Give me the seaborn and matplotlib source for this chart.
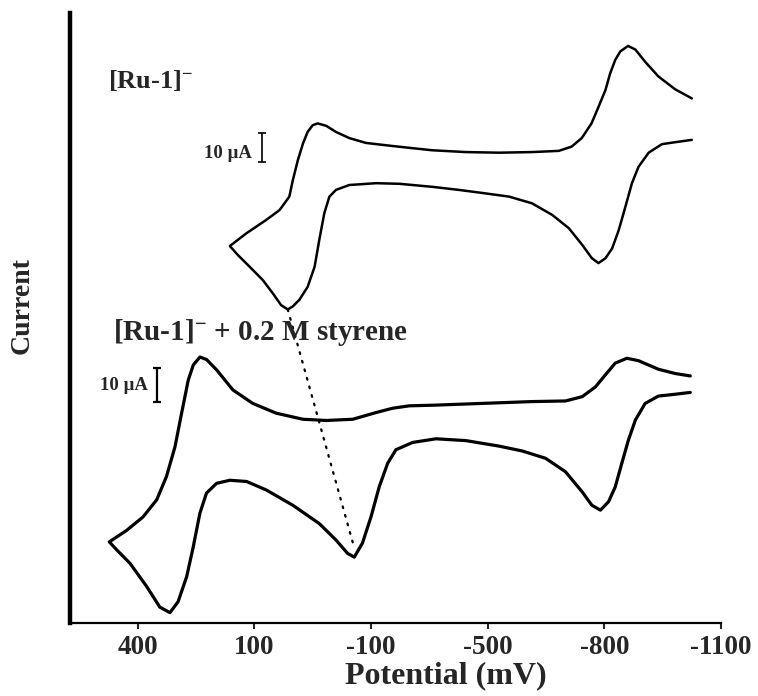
import numpy as np
import pandas as pd
import seaborn as sns
import matplotlib.pyplot as plt

# Cyclic voltammograms (x: potential in mV, y: current, arbitrary units)
# [Ru-1]- alone : upper sweep (right -> left), then lower sweep (left -> right)
ru_up_x = [-1025, -982, -939, -905, -880, -861, -841, -828, -815, -803,
           -785, -767, -742, -716, -683, -614, -529, -444, -357, -298,
           -255, -187, -144, -110, -85, -63, -50, -37, -25, -12,
           1, 10, 35, 69, 120, 163]
ru_up_y = [86.0, 87.5, 89.6, 92.0, 94.0, 94.6, 93.7, 92.3, 90.1, 87.4,
           84.6, 81.9, 79.5, 78.1, 77.4, 77.2, 77.1, 77.2, 77.5, 77.9,
           78.2, 78.7, 79.5, 80.5, 81.5, 81.9, 81.6, 80.5, 78.6, 75.9,
           72.6, 69.9, 67.7, 66.1, 63.9, 61.8]
ru_dn_x = [142, 112, 78, 52, 31, 14, 1, -16, -37, -55,
           -67, -80, -93, -110, -144, -213, -273, -358, -426, -486,
           -555, -614, -666, -709, -743, -768, -785, -803, -820, -837,
           -854, -871, -888, -914, -948, -991, -1025]
ru_dn_y = [60.3, 58.4, 56.2, 54.0, 52.1, 51.4, 51.9, 53.0, 55.1, 58.4,
           62.8, 67.2, 69.9, 71.0, 71.8, 72.1, 72.0, 71.5, 71.0, 70.5,
           69.9, 68.8, 66.9, 64.7, 62.0, 59.8, 59.0, 59.8, 61.4, 64.4,
           68.2, 72.1, 74.8, 77.1, 78.5, 78.9, 79.2]

# [Ru-1]- + 0.2 M styrene
sty_up_x = [-1021, -982, -939, -888, -858, -828, -803, -777, -743, -700,
            -614, -529, -444, -358, -298, -255, -213, -153, -85, -25,
            44, 104, 155, 197, 223, 240, 257, 270, 287, 304,
            326, 351, 386, 428, 473]
sty_up_y = [40.5, 40.9, 41.6, 43.0, 43.4, 42.6, 40.7, 38.7, 37.1, 36.4,
            36.3, 36.1, 35.9, 35.7, 35.6, 35.2, 34.5, 33.4, 33.2, 33.4,
            34.4, 36.0, 38.2, 41.5, 43.2, 43.6, 42.3, 39.8, 34.4, 28.9,
            24.0, 20.2, 17.4, 15.2, 13.3]
sty_dn_x = [454, 420, 377, 343, 317, 296, 274, 257, 240, 223,
            197, 163, 120, 69, 1, -67, -110, -140, -157, -178,
            -200, -221, -243, -264, -307, -367, -444, -529, -589, -649,
            -700, -743, -768, -790, -811, -828, -845, -862, -880, -905,
            -939, -982, -1021]
sty_dn_y = [12.0, 9.8, 6.0, 2.6, 1.7, 3.5, 7.6, 12.5, 18.0, 21.3,
            22.9, 23.4, 23.2, 21.8, 19.3, 16.3, 13.6, 11.4, 10.8, 13.1,
            17.4, 22.3, 26.2, 28.4, 29.6, 30.2, 29.9, 29.0, 28.2, 27.0,
            24.8, 21.5, 19.3, 18.5, 19.9, 22.3, 26.2, 30.0, 33.3, 36.0,
            37.2, 37.5, 37.8]

# axis ticks (the printed labels are kept as in the figure)
tick_pos = [400, 100, -200, -500, -800, -1100]
tick_labels = ['400', '100', '-100', '-500', '-800', '-1100']

ru = pd.DataFrame({'E': ru_up_x + ru_dn_x, 'I': ru_up_y + ru_dn_y})
sty = pd.DataFrame({'E': sty_up_x + sty_dn_x, 'I': sty_up_y + sty_dn_y})

sns.set_style('white')
plt.rcParams['font.family'] = ['Liberation Serif', 'DejaVu Serif']
plt.rcParams['font.weight'] = 'bold'
plt.rcParams['mathtext.fontset'] = 'custom'
plt.rcParams['mathtext.rm'] = 'Liberation Serif:bold'
plt.rcParams['mathtext.default'] = 'rm'

fig = plt.figure(figsize=(7.58, 6.96), dpi=100)
ax = fig.add_axes([70 / 758, 73 / 696, 651 / 758, 610 / 696])

sns.lineplot(data=ru, x='E', y='I', sort=False, estimator=None, color='black',
             lw=1.8, ax=ax, solid_joinstyle='round')
sns.lineplot(data=sty, x='E', y='I', sort=False, estimator=None, color='black',
             lw=2.3, ax=ax, solid_joinstyle='round')

# dotted line joining the shifted reduction peaks
m1 = ru['E'] > -400
p1 = ru[m1].loc[ru[m1]['I'].idxmin()]
m2 = (sty['E'] > -400) & (sty['E'] < 0)
p2 = sty[m2].loc[sty[m2]['I'].idxmin()]
ax.plot([p1['E'], p2['E']], [p1['I'], p2['I'] + 1.5], color='black', lw=1.6,
        linestyle=(0, (0.8, 3.2)), dash_capstyle='round')

# labels and 10 uA scale bars
ax.text(476, 89.0, '[Ru-1]$^{-}$', fontsize=19, fontweight='bold', ha='left', va='center')
ax.text(463, 47.6, '[Ru-1]$^{-}$ + 0.2 M styrene', fontsize=21, fontweight='bold',
        ha='left', va='center')
ax.text(107, 76.9, '10 µA', fontsize=13.5, fontweight='bold', ha='right', va='center')
ax.text(374, 38.9, '10 µA', fontsize=13.5, fontweight='bold', ha='right', va='center')
ax.errorbar([79], [78.0], yerr=[2.4], fmt='none', ecolor='black', elinewidth=1.2,
            capsize=3, capthick=1.2)
ax.errorbar([350], [39.0], yerr=[2.8], fmt='none', ecolor='black', elinewidth=1.6,
            capsize=3, capthick=1.6)

ax.set_xlim(574, -1100)
ax.set_ylim(0, 100)
ax.set_xticks(tick_pos)
ax.set_xticklabels(tick_labels)
ax.set_yticks([])
ax.tick_params(axis='x', direction='out', length=4, width=1.5, labelsize=19.5, pad=5,
               bottom=True)
for lab in ax.get_xticklabels():
    lab.set_fontweight('bold')

ax.set_xlabel('Potential (mV)', fontsize=23, fontweight='bold')
ax.set_ylabel('Current', fontsize=20, fontweight='bold')
ax.xaxis.set_label_coords(0.578, -0.062)
ax.yaxis.set_label_coords(-0.054, 0.52)

sns.despine(ax=ax)
ax.spines['left'].set_linewidth(3.2)
ax.spines['bottom'].set_linewidth(1.6)
ax.spines['left'].set_color('black')
ax.spines['bottom'].set_color('black')

fig.savefig('out.png', dpi=100, facecolor='white')
